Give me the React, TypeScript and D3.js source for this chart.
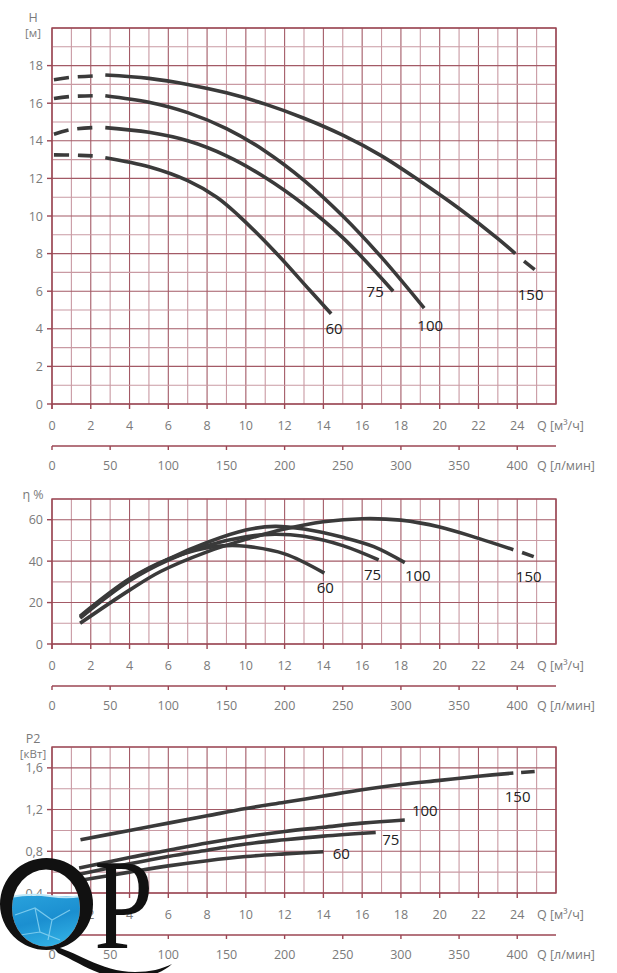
import * as d3 from "d3"

// shared flow axis
const qTicks = [0, 2, 4, 6, 8, 10, 12, 14, 16, 18, 20, 22, 24]
const lpmTicks = [0, 50, 100, 150, 200, 250, 300, 350, 400]
const models = ["60", "75", "100", "150"]

// head H [m]
const hTicks = [0, 2, 4, 6, 8, 10, 12, 14, 16, 18]
const head60Dash: [number, number][] = [[0.1, 13.25], [1, 13.24], [2.1, 13.2]]
const head75Dash: [number, number][] = [[0.1, 14.35], [1, 14.6], [2.1, 14.7]]
const head100Dash: [number, number][] = [[0.1, 16.25], [1, 16.36], [2.1, 16.4]]
const head150Dash: [number, number][] = [[0.1, 17.25], [1, 17.38], [2.1, 17.45]]
const head60: [number, number][] = [[2.75, 13.1], [5, 12.62], [7, 11.88], [8.5, 11.0], [9.6, 10.05], [11.5, 8.1], [13.3, 6.05], [14.4, 4.8]]
const head75: [number, number][] = [[2.75, 14.7], [5, 14.45], [7, 14.0], [9, 13.2], [11, 12.05], [13, 10.6], [15, 8.85], [17.6, 6.0]]
const head100: [number, number][] = [[2.75, 16.4], [5, 16.05], [7, 15.5], [9, 14.65], [11, 13.45], [13, 11.9], [15, 10.0], [17, 7.8], [19.2, 5.1]]
const head150: [number, number][] = [[2.75, 17.5], [5, 17.32], [7, 17.0], [9, 16.55], [11, 15.95], [13, 15.2], [15, 14.3], [17, 13.2], [19, 11.85], [21, 10.4], [23, 8.8], [23.9, 8.0]]
const head150Tail: [number, number][] = [[24.35, 7.6], [24.9, 7.15]]

// efficiency [%]
const effTicks = [0, 20, 40, 60]
const eff60: [number, number][] = [[1.45, 13.5], [4, 31.5], [6, 41], [8, 46.5], [9, 47.5], [10, 47.2], [12, 43.5], [14.05, 34.2]]
const eff75: [number, number][] = [[1.45, 12.5], [4, 30.5], [6, 40.5], [8, 47.5], [10, 51.8], [11.5, 53], [13, 52], [15, 47.5], [16.85, 40.6]]
const eff100: [number, number][] = [[1.45, 13], [4, 31], [6, 41], [8, 49], [10, 55], [11.5, 56.8], [13, 55.5], [15, 51.5], [16.6, 47], [18.2, 39.3]]
const eff150: [number, number][] = [[1.45, 10], [4, 26], [5.6, 35], [8, 44.5], [10, 50.5], [12, 55.5], [14, 59], [16, 60.5], [18, 59.8], [20, 56.5], [22, 51], [23.8, 45.5]]
const eff150Tail: [number, number][] = [[24.25, 44.2], [24.85, 42.2]]

// power P2 [kW]
const powerTicks = [0.4, 0.8, 1.2, 1.6]
const power60: [number, number][] = [[1.4, 0.52], [4, 0.6], [6, 0.66], [8, 0.71], [10, 0.75], [12, 0.775], [14, 0.795]]
const power75: [number, number][] = [[1.4, 0.58], [4, 0.68], [6, 0.75], [8, 0.81], [10, 0.87], [12, 0.91], [14, 0.945], [16.7, 0.98]]
const power100: [number, number][] = [[1.4, 0.64], [4, 0.74], [6, 0.81], [8, 0.88], [10, 0.94], [12, 0.99], [14, 1.03], [16, 1.07], [18.2, 1.1]]
const power150: [number, number][] = [[1.47, 0.91], [4, 1.0], [6, 1.07], [8, 1.14], [10, 1.21], [12, 1.27], [14, 1.33], [16, 1.39], [18, 1.44], [20, 1.48], [22, 1.52], [23.8, 1.55]]
const power150Tail: [number, number][] = [[24.2, 1.555], [24.9, 1.565]]

const GRID_DARK = "#a35a66"
const GRID_LIGHT = "#c99aa3"
const AXIS = "#9b4653"
const CURVE = "#3a3a3a"
const TEXT = "#7a7a7a"
const FONT = "'Open Sans', 'Noto Sans', sans-serif"

const x = d3.scaleLinear().domain([0, 26]).range([52, 556])
const xl = d3.scaleLinear().domain([0, 26 * 1000 / 60]).range([52, 556])

type Pts = [number, number][]
interface Series {
  name: string
  solid: Pts
  dashStart?: Pts
  tail?: Pts
  label: [number, number]
}

interface PanelProps {
  top: number
  bottom: number
  yDomain: [number, number]
  step: number
  ticks: number[]
  fmt: (v: number) => string
  titles: string[]
  titleY: number
  series: Series[]
}

function Panel({ top, bottom, yDomain, step, ticks, fmt, titles, titleY, series }: PanelProps) {
  const y = d3.scaleLinear().domain(yDomain).range([bottom, top])
  const line = d3
    .line<[number, number]>()
    .x((d) => x(d[0]))
    .y((d) => y(d[1]))
    .curve(d3.curveCatmullRom.alpha(0.5))
  const nY = Math.round((yDomain[1] - yDomain[0]) / step)
  const hLines = d3.range(0, nY + 1).map((i) => yDomain[0] + i * step)
  const vLines = d3.range(0, 27)
  const axis2 = bottom + 42

  return (
    <g>
      {/* grid */}
      {vLines.map((q) => (
        <line key={"v" + q} x1={x(q)} x2={x(q)} y1={top} y2={bottom} stroke={q % 2 === 0 ? GRID_DARK : GRID_LIGHT} strokeWidth={1.1} />
      ))}
      {hLines.map((v, i) => (
        <line key={"h" + i} x1={x(0)} x2={x(26)} y1={y(v)} y2={y(v)} stroke={i % 2 === 0 ? GRID_DARK : GRID_LIGHT} strokeWidth={1.1} />
      ))}
      <rect x={x(0)} y={top} width={x(26) - x(0)} height={bottom - top} fill="none" stroke={AXIS} strokeWidth={1.4} />

      {/* y axis */}
      <line x1={x(0)} x2={x(0)} y1={bottom} y2={bottom + 5} stroke={AXIS} strokeWidth={1.4} />
      {ticks.map((t) => (
        <g key={"yt" + t}>
          <line x1={x(0) - 5} x2={x(0)} y1={y(t)} y2={y(t)} stroke={AXIS} strokeWidth={1.4} />
          <text x={43} y={y(t)} textAnchor="end" dominantBaseline="central" fontSize={12.5} fill={TEXT} fontFamily={FONT}>
            {fmt(t)}
          </text>
        </g>
      ))}
      {titles.map((t, i) => (
        <text key={t} x={33} y={titleY + i * 15} textAnchor="middle" dominantBaseline="central" fontSize={i === 0 ? 12.5 : 11.5} fill={TEXT} fontFamily={FONT}>
          {t}
        </text>
      ))}

      {/* x axis, m3/h */}
      {qTicks.map((q) => (
        <g key={"xt" + q}>
          <line x1={x(q)} x2={x(q)} y1={bottom} y2={bottom + 5} stroke={AXIS} strokeWidth={1.4} />
          <text x={x(q)} y={bottom + 21} textAnchor="middle" dominantBaseline="central" fontSize={12.5} fill={TEXT} fontFamily={FONT}>
            {q}
          </text>
        </g>
      ))}
      <text x={537} y={bottom + 21} dominantBaseline="central" fontSize={12.5} fill={TEXT} fontFamily={FONT}>
        Q [м³/ч]
      </text>

      {/* x axis, l/min */}
      <line x1={x(0)} x2={x(26)} y1={axis2} y2={axis2} stroke={AXIS} strokeWidth={1.4} />
      {lpmTicks.map((l) => (
        <g key={"lt" + l}>
          <line x1={xl(l)} x2={xl(l)} y1={axis2} y2={axis2 + 4} stroke={AXIS} strokeWidth={1.4} />
          <text x={xl(l)} y={axis2 + 19} textAnchor="middle" dominantBaseline="central" fontSize={12.5} fill={TEXT} fontFamily={FONT}>
            {l}
          </text>
        </g>
      ))}
      <text x={537} y={axis2 + 19} dominantBaseline="central" fontSize={12.5} fill={TEXT} fontFamily={FONT}>
        Q [л/мин]
      </text>

      {/* curves */}
      {series.map((s) => {
        const end = s.tail ?? s.solid
        const last = end[end.length - 1]
        return (
          <g key={s.name}>
            {s.dashStart && (
              <path d={line(s.dashStart) ?? ""} fill="none" stroke={CURVE} strokeWidth={3.6} strokeDasharray="15 9" />
            )}
            <path d={line(s.solid) ?? ""} fill="none" stroke={CURVE} strokeWidth={3.6} />
            {s.tail && <path d={line(s.tail) ?? ""} fill="none" stroke={CURVE} strokeWidth={3.6} />}
            <text
              x={x(last[0]) + s.label[0]}
              y={y(last[1]) + s.label[1]}
              textAnchor="middle"
              dominantBaseline="central"
              fontSize={15}
              fill="#222"
              fontFamily={FONT}
            >
              {s.name}
            </text>
          </g>
        )
      })}
    </g>
  )
}

function Logo() {
  return (
    <g>
      <defs>
        <clipPath id="qCounter">
          <ellipse cx={46} cy={908} rx={34} ry={38.5} />
        </clipPath>
        <linearGradient id="water" x1="0" y1="0" x2="0.4" y2="1">
          <stop offset="0" stopColor="#2aa3dd" />
          <stop offset="0.5" stopColor="#1b8fd0" />
          <stop offset="1" stopColor="#36b7e8" />
        </linearGradient>
      </defs>
      <g clipPath="url(#qCounter)">
        <rect x={0} y={896} width={95} height={60} fill="url(#water)" />
        <path d="M10 897 Q30 893 50 896 T85 895" fill="none" stroke="#bfe8f8" strokeWidth={2} />
        <path d="M15 915 L35 908 L52 920 L70 910 M35 908 L40 932 L60 940 M52 920 L48 940 M20 935 L40 932" fill="none" stroke="#8fd6f3" strokeWidth={1.2} opacity={0.8} />
      </g>
      <path
        fillRule="evenodd"
        fill="#111"
        d="M0 904 A46.5 46 0 1 0 93 904 A46.5 46 0 1 0 0 904 Z M12 908 A34 38.5 0 1 0 80 908 A34 38.5 0 1 0 12 908 Z"
      />
      <path d="M52 946 C75 950 100 972 135 972 C150 972 162 969 172 964 C160 975 140 980 120 978 C95 975 78 962 58 953 Z" fill="#111" />
      <text transform="translate(94,948) scale(0.82,1)" fontSize={130} fontFamily="'Liberation Serif', 'DejaVu Serif', serif" fill="#111">
        P
      </text>
    </g>
  )
}

export default function App() {
  const headSeries: Series[] = [
    { name: models[0], solid: head60, dashStart: head60Dash, label: [3, 14] },
    { name: models[1], solid: head75, dashStart: head75Dash, label: [-18, 0] },
    { name: models[2], solid: head100, dashStart: head100Dash, label: [6, 17] },
    { name: models[3], solid: head150, dashStart: head150Dash, tail: head150Tail, label: [-4, 24] },
  ]
  const effSeries: Series[] = [
    { name: models[0], solid: eff60, label: [1, 14] },
    { name: models[1], solid: eff75, label: [-6, 14] },
    { name: models[2], solid: eff100, label: [13, 12] },
    { name: models[3], solid: eff150, tail: eff150Tail, label: [-5, 19] },
  ]
  const powerSeries: Series[] = [
    { name: models[0], solid: power60, label: [18, 1] },
    { name: models[1], solid: power75, label: [15, 6] },
    { name: models[2], solid: power100, label: [20, -10] },
    { name: models[3], solid: power150, tail: power150Tail, label: [-17, 24] },
  ]
  const comma = (v: number) => v.toFixed(1).replace(".", ",")

  return (
    <svg width={617} height={973} style={{ position: "absolute", left: 0, top: 0, background: "#fff" }}>
      <rect width={617} height={973} fill="#fff" />
      <Panel top={28} bottom={404} yDomain={[0, 20]} step={1} ticks={hTicks} fmt={String} titles={["H", "[м]"]} titleY={17} series={headSeries} />
      <Panel top={499} bottom={644} yDomain={[0, 70]} step={10} ticks={effTicks} fmt={String} titles={["η %"]} titleY={494} series={effSeries} />
      <Panel top={747} bottom={893} yDomain={[0.4, 1.8]} step={0.2} ticks={powerTicks} fmt={comma} titles={["P2", "[кВт]"]} titleY={738} series={powerSeries} />
      <Logo />
    </svg>
  )
}
